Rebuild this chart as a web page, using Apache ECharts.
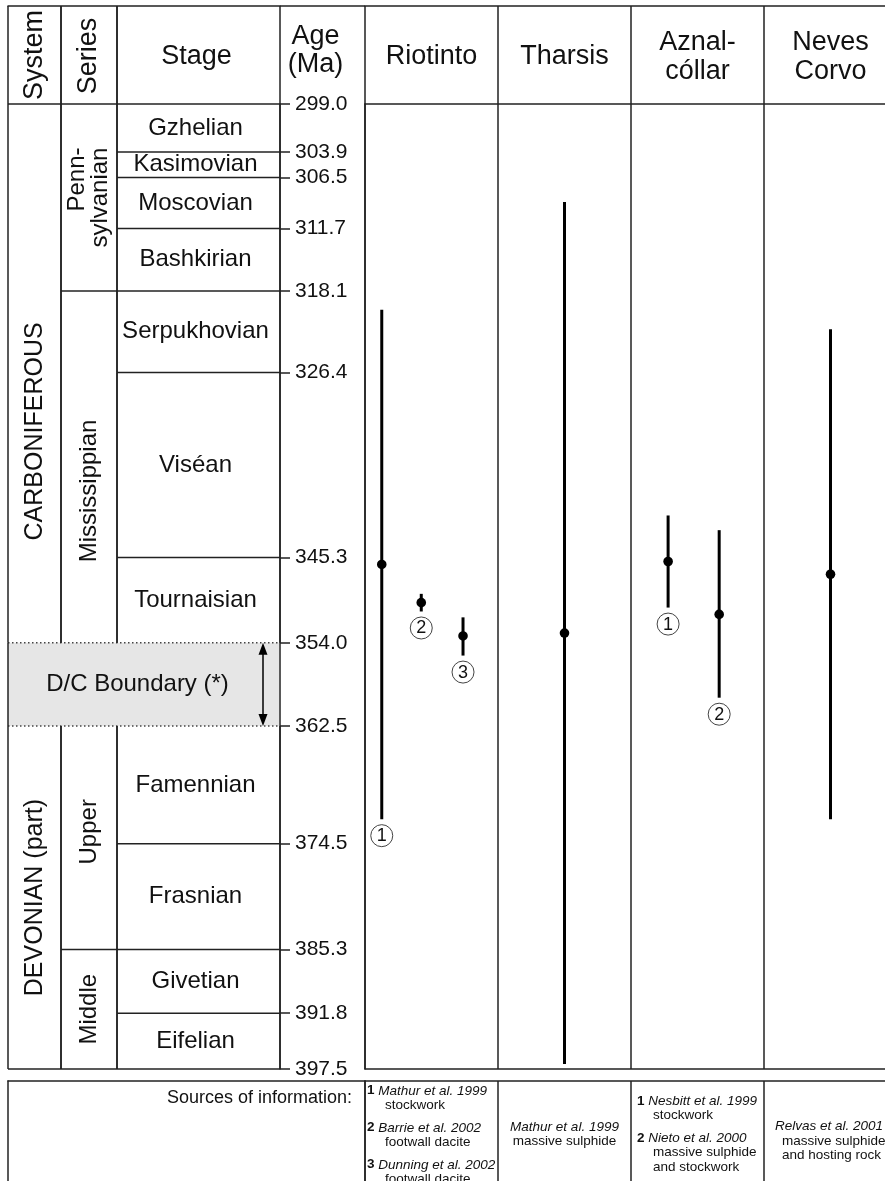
<!DOCTYPE html>
<html><head><meta charset="utf-8">
<script src="https://cdn.jsdelivr.net/npm/echarts@6/dist/echarts.min.js"></script>
<style>html,body{margin:0;padding:0;background:#fff}#c{width:885px;height:1181px}</style>
</head><body><div id="c"></div>
<script>
// ================= DATA =================
const ageTicks = [299.0, 303.9, 306.5, 311.7, 318.1, 326.4, 345.3, 354.0, 362.5, 374.5, 385.3, 391.8, 397.5];

const systemNames = ['CARBONIFEROUS', 'DEVONIAN (part)'];
const systemTop   = [299.0, 362.5];
const systemBase  = [354.0, 397.5];

const seriesNames = ['Penn-\nsylvanian', 'Mississippian', 'Upper', 'Middle'];
const seriesTop   = [299.0, 318.1, 362.5, 385.3];
const seriesBase  = [318.1, 354.0, 385.3, 397.5];

const stageNames = ['Gzhelian', 'Kasimovian', 'Moscovian', 'Bashkirian', 'Serpukhovian', 'Viséan',
                    'Tournaisian', 'Famennian', 'Frasnian', 'Givetian', 'Eifelian'];
const stageTop   = [299.0, 303.9, 306.5, 311.7, 318.1, 326.4, 345.3, 362.5, 374.5, 385.3, 391.8];
const stageBase  = [303.9, 306.5, 311.7, 318.1, 326.4, 345.3, 354.0, 374.5, 385.3, 391.8, 397.5];

const boundaryZone  = [354.0, 362.5];
const boundaryLabel = 'D/C Boundary (*)';

const headerNames = ['System', 'Series', 'Stage', 'Age\n(Ma)'];
const deposits    = ['Riotinto', 'Tharsis', 'Aznal-\ncóllar', 'Neves\nCorvo'];

// age determinations (Ma): central value, younger limit, older limit
const sampleDeposit = [0, 0, 0, 1, 2, 2, 3];
const sampleNumber  = ['1', '2', '3', '', '1', '2', ''];
const sampleAge     = [346.0, 349.9, 353.3, 353.0, 345.7, 351.1, 347.0];
const sampleYoung   = [320.0, 349.0, 351.4, 309.0, 341.0, 342.5, 322.0];
const sampleOld     = [372.0, 350.8, 355.3, 397.0, 350.4, 359.6, 372.0];

const refCitation = ['Mathur et al. 1999', 'Barrie et al. 2002', 'Dunning et al. 2002', 'Mathur et al. 1999',
                     'Nesbitt et al. 1999', 'Nieto et al. 2000', 'Relvas et al. 2001'];
const refMaterial = ['stockwork', 'footwall dacite', 'footwall dacite', 'massive sulphide',
                     'stockwork', 'massive sulphide\nand stockwork', 'massive sulphide\nand hosting rock'];
const sourcesTitle = 'Sources of information:';

// ================= LAYOUT / STYLE =================
const AGE_MIN = ageTicks[0], AGE_MAX = ageTicks[ageTicks.length - 1];
const FONT = '"Liberation Sans", Arial, Helvetica, sans-serif';
const LINE = '#222', TXT = '#111', LW = 1.5;
const COLS = [[0, 53], [53, 109], [109, 272], [272, 357]];
const HEADER_H = 98;
const LEVEL_FONT = [25, 24, 24];
const LABEL_DX = [1, 0, -3];
const LABEL_SHIFT = { 'CARBONIFEROUS': 58, 'Mississippian': 24, 'Upper': -6 };
const HEADER_LAYOUT = [
  { dx: 0, dy: 0, rot: true, size: 27 },
  { dx: 0, dy: 1, rot: true, size: 27 },
  { dx: -2, dy: 2, rot: false, size: 27 },
  { dx: -7, dy: -4, rot: false, size: 27 }
];
const SLOT = [0.126, 0.423, 0.737, 0.5, 0.279, 0.663, 0.5];
const SRC_LAYOUT = [
  { align: 'left', cite: 2, mat: 20, dy: 1 },
  { align: 'center', dy: 0 },
  { align: 'left', cite: 6, mat: 22, dy: 0 },
  { align: 'left', cite: 11, mat: 18, dy: 7 }
];
const SRC_LH = 14.5, SRC_GAP = 8, SRC_CENTER = 53, SRC_FS = 13.5;

const measureCtx = document.createElement('canvas').getContext('2d');
function textWidth(s, size) {
  measureCtx.font = size + 'px ' + FONT;
  return Math.max.apply(null, s.split('\n').map(t => measureCtx.measureText(t).width));
}

function ln(x1, y1, x2, y2, extra) {
  return { type: 'line', shape: { x1, y1, x2, y2 },
           style: Object.assign({ stroke: LINE, lineWidth: LW }, extra || {}) };
}
function txt(x, y, text, size, opts) {
  opts = opts || {};
  return { type: 'text', x, y, rotation: opts.rot ? Math.PI / 2 : 0,
           style: { text, fontSize: size, fontFamily: FONT, fill: TXT,
                    align: opts.align || 'center', verticalAlign: 'middle',
                    lineHeight: opts.lh || Math.round(size * 1.05),
                    fontStyle: opts.italic ? 'italic' : 'normal', rich: opts.rich } };
}

function unitRenderer(level, names) {
  return function (params, api) {
    const cs = params.coordSys;
    const i = params.dataIndex;
    const top = api.value(1), base = api.value(2);
    const x0 = cs.x + COLS[level][0], x1 = cs.x + COLS[level][1];
    const yT = api.coord([0, top])[1], yB = api.coord([0, base])[1];
    const ch = [ln(x0, yT, x0, yB), ln(x1, yT, x1, yB)];
    if (top !== boundaryZone[1]) ch.push(ln(x0, yT, x1, yT));
    if (base === AGE_MAX) ch.push(ln(x0, yB, x1, yB));
    const name = names[i];
    const size = LEVEL_FONT[level];
    const cx = (x0 + x1) / 2 + LABEL_DX[level];
    const cy = (yT + yB) / 2 + (LABEL_SHIFT[name] || 0);
    if (level < 2 && name.indexOf('\n') >= 0) {
      // multi-line rotated label: lines end-aligned (towards the top)
      const w = textWidth(name, size);
      ch.push(txt(cx, cy - w / 2, name, size, { rot: true, lh: 23, align: 'right' }));
    } else {
      ch.push(txt(cx, cy, name, size, { rot: level < 2, lh: 23 }));
    }
    return { type: 'group', children: ch };
  };
}

function renderHeader(params, api) {
  const cs = params.coordSys;
  const yT = cs.y - HEADER_H, yB = cs.y, ym = (yT + yB) / 2;
  const ch = [];
  headerNames.forEach((h, k) => {
    const x0 = cs.x + COLS[k][0], x1 = cs.x + COLS[k][1];
    if (k < 3) { ch.push(ln(x0, yT, x0, yB)); ch.push(ln(x1, yT, x1, yB)); }
    else { ch.push(ln(x0, yT, x1, yT)); }
    const L = HEADER_LAYOUT[k];
    ch.push(txt((x0 + x1) / 2 + L.dx, ym + L.dy, h, L.size, { rot: L.rot, lh: 28 }));
  });
  return { type: 'group', children: ch };
}

function renderBand(params, api) {
  const cs = params.coordSys;
  const yT = api.coord([0, api.value(1)])[1], yB = api.coord([0, api.value(2)])[1];
  const x0 = cs.x, x1 = cs.x + COLS[2][1];
  const ax = cs.x + 255;
  const dot = { stroke: '#444', lineWidth: 1.5, lineDash: [1.5, 2.5] };
  return { type: 'group', children: [
    { type: 'rect', shape: { x: x0, y: yT, width: x1 - x0 - 1, height: yB - yT }, style: { fill: '#e6e6e6' } },
    ln(x0, yT, x1, yT, dot), ln(x0, yB, x1, yB, dot),
    ln(x0, yT, x0, yB),
    ln(ax, yT + 6, ax, yB - 6, { stroke: '#000', lineWidth: 1.5 }),
    { type: 'polygon', shape: { points: [[ax, yT], [ax - 4.5, yT + 12], [ax + 4.5, yT + 12]] }, style: { fill: '#000' } },
    { type: 'polygon', shape: { points: [[ax, yB], [ax - 4.5, yB - 12], [ax + 4.5, yB - 12]] }, style: { fill: '#000' } },
    txt(cs.x + 129.5, (yT + yB) / 2, boundaryLabel, 24)
  ] };
}

function renderSample(params, api) {
  const i = params.dataIndex;
  const dep = api.value(0);
  const bw = api.size([1, 0])[0];
  const c = api.coord([dep, api.value(1)]);
  const cx = c[0] - bw / 2 + bw * SLOT[i];
  const yMid = c[1];
  const yTop = api.coord([dep, api.value(2)])[1];
  const yBot = api.coord([dep, api.value(3)])[1];
  const ch = [
    { type: 'line', shape: { x1: cx, y1: yTop, x2: cx, y2: yBot }, style: { stroke: '#000', lineWidth: 3 } },
    { type: 'circle', shape: { cx, cy: yMid, r: 4.8 }, style: { fill: '#000' } }
  ];
  if (sampleNumber[i]) {
    const cy = yBot + 16.5;
    ch.push({ type: 'circle', shape: { cx, cy, r: 11 }, style: { fill: '#fff', stroke: '#444', lineWidth: 1 } });
    ch.push(txt(cx, cy + 0.5, sampleNumber[i], 18));
  }
  return { type: 'group', children: ch };
}

function renderSources(params, api) {
  const cs = params.coordSys;
  const d = api.value(0);
  const bw = api.size([1, 0])[0];
  const cx = api.coord([d, 0])[0];
  const left = cx - bw / 2;
  const L = SRC_LAYOUT[d];
  const idx = [];
  sampleDeposit.forEach((dd, k) => { if (dd === d) idx.push(k); });
  const lines = [];
  idx.forEach((k, j) => {
    const num = sampleNumber[k];
    const cite = num ? '{n|' + num + '} {i|' + refCitation[k] + '}' : '{i|' + refCitation[k] + '}';
    lines.push({ text: cite, cite: true, gapBefore: j > 0 });
    refMaterial[k].split('\n').forEach(m => lines.push({ text: m, cite: false, gapBefore: false }));
  });
  const total = lines.length * SRC_LH + (idx.length - 1) * SRC_GAP;
  let y = cs.y + SRC_CENTER + L.dy - total / 2 + SRC_LH / 2;
  const rich = {
    n: { fontWeight: 'bold', fontSize: SRC_FS, fontFamily: FONT, fill: TXT },
    i: { fontStyle: 'italic', fontSize: SRC_FS, fontFamily: FONT, fill: TXT }
  };
  const ch = [];
  lines.forEach(l => {
    if (l.gapBefore) y += SRC_GAP;
    let x, align;
    if (L.align === 'center') { x = cx; align = 'center'; }
    else { x = left + (l.cite ? L.cite : L.mat); align = 'left'; }
    ch.push(txt(x, y, l.text, SRC_FS, { align, rich: l.cite ? rich : undefined, lh: SRC_LH }));
    y += SRC_LH;
  });
  return { type: 'group', children: ch };
}

function renderSourcesTitle(params, api) {
  const cs = params.coordSys;
  return txt(cs.x + cs.width - 13, cs.y + 17, sourcesTitle, 18, { align: 'right' });
}

const axisLineOnly = { show: true, onZero: false, lineStyle: { color: LINE, width: LW } };
const off = { show: false };

const option = {
  animation: false,
  backgroundColor: '#fff',
  grid: [
    { left: 8, top: 104, width: 272, height: 965, outerBoundsMode: 'none', containLabel: false },
    { left: 365, top: 104, width: 532, height: 965, outerBoundsMode: 'none', containLabel: false },
    { left: 8, top: 1081, width: 357, height: 110, outerBoundsMode: 'none', containLabel: false },
    { left: 365, top: 1081, width: 532, height: 110, outerBoundsMode: 'none', containLabel: false }
  ],
  xAxis: [
    { gridIndex: 0, type: 'value', min: 0, max: 1, position: 'top', offset: HEADER_H,
      axisLine: axisLineOnly, axisTick: off, axisLabel: off, splitLine: off },
    { gridIndex: 1, type: 'category', data: deposits, position: 'top',
      axisLine: axisLineOnly,
      axisTick: { show: true, length: HEADER_H, interval: 0, lineStyle: { color: LINE, width: LW } },
      axisLabel: { show: true, interval: 0, margin: 47, verticalAlign: 'middle', fontSize: 27,
                   lineHeight: 29, fontFamily: FONT, color: TXT },
      splitLine: { show: true, interval: 0, lineStyle: { color: LINE, width: LW } } },
    { gridIndex: 1, type: 'category', data: deposits, position: 'top', offset: HEADER_H,
      axisLine: axisLineOnly, axisTick: off, axisLabel: off, splitLine: off },
    { gridIndex: 1, type: 'category', data: deposits, position: 'bottom',
      axisLine: axisLineOnly, axisTick: off, axisLabel: off, splitLine: off },
    { gridIndex: 2, type: 'value', min: 0, max: 1, position: 'top',
      axisLine: axisLineOnly, axisTick: off, axisLabel: off, splitLine: off },
    { gridIndex: 3, type: 'category', data: deposits, position: 'top',
      axisLine: axisLineOnly, axisTick: off, axisLabel: off,
      splitLine: { show: true, interval: 0, lineStyle: { color: LINE, width: LW } } }
  ],
  yAxis: [
    { gridIndex: 0, type: 'value', inverse: true, min: AGE_MIN, max: AGE_MAX, position: 'right',
      axisLine: axisLineOnly,
      axisTick: { show: true, customValues: ageTicks, length: 10, inside: false, lineStyle: { color: LINE, width: LW } },
      axisLabel: { show: true, customValues: ageTicks, margin: 15, fontSize: 21, fontFamily: FONT, color: TXT,
                   formatter: v => Number(v).toFixed(1), showMinLabel: true, showMaxLabel: true },
      splitLine: off },
    { gridIndex: 1, type: 'value', inverse: true, min: AGE_MIN, max: AGE_MAX, position: 'left',
      axisLine: axisLineOnly, axisTick: off, axisLabel: off, splitLine: off },
    { gridIndex: 2, type: 'value', min: 0, max: 1, position: 'left',
      axisLine: axisLineOnly, axisTick: off, axisLabel: off, splitLine: off },
    { gridIndex: 3, type: 'value', min: 0, max: 1, position: 'left',
      axisLine: axisLineOnly, axisTick: off, axisLabel: off, splitLine: off }
  ],
  series: [
    { type: 'custom', name: 'boundary', xAxisIndex: 0, yAxisIndex: 0, z: 1,
      data: [[0, boundaryZone[0], boundaryZone[1]]], encode: { x: 0, y: [1, 2] }, renderItem: renderBand },
    { type: 'custom', name: 'header', xAxisIndex: 0, yAxisIndex: 0, z: 3, clip: false,
      data: [[0, AGE_MIN, AGE_MIN]], encode: { x: 0, y: [1, 2] }, renderItem: renderHeader },
    { type: 'custom', name: 'system', xAxisIndex: 0, yAxisIndex: 0, z: 3,
      data: systemNames.map((n, k) => [0, systemTop[k], systemBase[k]]), encode: { x: 0, y: [1, 2] },
      renderItem: unitRenderer(0, systemNames) },
    { type: 'custom', name: 'series', xAxisIndex: 0, yAxisIndex: 0, z: 3,
      data: seriesNames.map((n, k) => [0, seriesTop[k], seriesBase[k]]), encode: { x: 0, y: [1, 2] },
      renderItem: unitRenderer(1, seriesNames) },
    { type: 'custom', name: 'stage', xAxisIndex: 0, yAxisIndex: 0, z: 3,
      data: stageNames.map((n, k) => [0, stageTop[k], stageBase[k]]), encode: { x: 0, y: [1, 2] },
      renderItem: unitRenderer(2, stageNames) },
    { type: 'custom', name: 'ages', xAxisIndex: 1, yAxisIndex: 1, z: 4, clip: false,
      data: sampleDeposit.map((d, k) => [d, sampleAge[k], sampleYoung[k], sampleOld[k]]),
      encode: { x: 0, y: [1, 2, 3] }, renderItem: renderSample },
    { type: 'custom', name: 'sourcesTitle', xAxisIndex: 4, yAxisIndex: 2, clip: false,
      data: [[0, 0]], encode: { x: 0, y: 1 }, renderItem: renderSourcesTitle },
    { type: 'custom', name: 'sources', xAxisIndex: 5, yAxisIndex: 3, clip: false,
      data: deposits.map((d, k) => [k, 0]), encode: { x: 0, y: 1 }, renderItem: renderSources }
  ]
};

const chart = echarts.init(document.getElementById('c'), null, { renderer: 'canvas' });
chart.setOption(option);
</script>
</body></html>
